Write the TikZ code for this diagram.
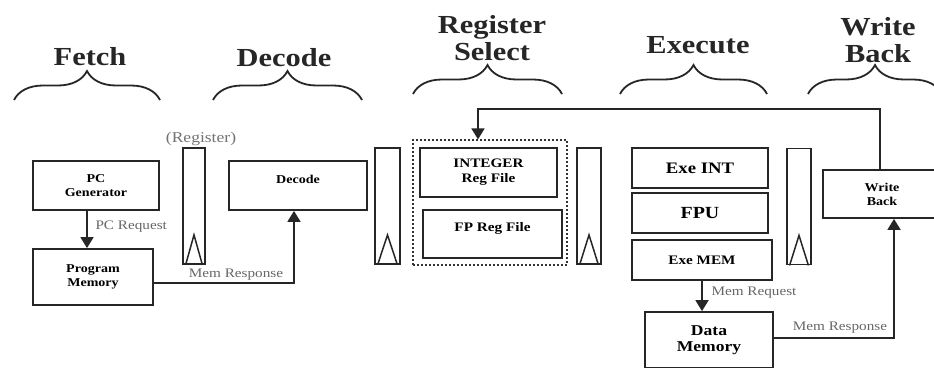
\documentclass[tikz,border=0pt]{standalone}
\usepackage{fontspec}
\setmainfont{Liberation Serif}[FakeStretch=1.17]
\usetikzlibrary{arrows.meta,decorations.pathreplacing}

\tikzset{
  ink/.style={draw=black!85, line width=1.8pt},
  box/.style={ink, rectangle, inner sep=0pt, align=center, font=\bfseries\fontsize{13}{15}\selectfont},
  regbox/.style={ink, rectangle, inner sep=0pt, minimum width=23pt, minimum height=116pt},
  title/.style={font=\bfseries\fontsize{26}{27}\selectfont, align=center, text=black!85},
  sig/.style={font=\fontsize{13}{14}\selectfont, text=black!60},
  arr/.style={ink, -{Triangle[width=13pt,length=11pt]}},
  stagebrace/.style={ink, decorate, decoration={brace, amplitude=29pt}},
}

\begin{document}
\begin{tikzpicture}[x=1pt, y=-1pt]
\useasboundingbox (0,0) rectangle (934,367);
\clip (0,0) rectangle (934,367);

% stage titles
\node[title] (tfetch) at (90,57) {Fetch};
\node[title] (tdec) at (284,58) {Decode};
\node[title] (tsel) at (492,38) {Register\\Select};
\node[title] (texe) at (698,45) {Execute};
\node[title] (twb) at (878,40) {Write\\Back};

% stage braces
\draw[stagebrace] (14,100) -- (160,100);
\draw[stagebrace] (213,100) -- (362,100);
\draw[stagebrace] (413,94) -- (562,94);
\draw[stagebrace] (620,94) -- (767,94);
\draw[stagebrace] (808,94) -- (942,94);

% fetch stage
\node[box, minimum width=126pt, minimum height=49pt, font=\bfseries\fontsize{12}{14}\selectfont] (pcg) at (96,185.5) {PC\\Generator};
\node[box, minimum width=120pt, minimum height=56pt, font=\bfseries\fontsize{12}{14}\selectfont] (pm) at (93,277) {Program\\Memory};

% pipeline registers
\node[regbox, minimum width=22pt] (reg1) at (194,206) {};
\node[regbox, minimum width=25pt] (reg2) at (387.5,206) {};
\node[regbox, minimum width=24pt] (reg3) at (589,206) {};
\node[regbox, minimum width=24pt] (reg4) at (799,206.5) {};
\foreach \r in {reg1,reg2,reg3,reg4}
  \draw[ink, line width=1.5pt, line join=miter]
    ([xshift=3.5pt]\r.south west) -- ([yshift=30pt]\r.south) -- ([xshift=-3.5pt]\r.south east);
\node[sig, text=black!55, font=\fontsize{15}{16}\selectfont] (reglbl) at (201,139) {(Register)};

% decode stage
\node[box, minimum width=138pt, minimum height=49pt, font=\bfseries\fontsize{12}{14}\selectfont,
  label={[font=\bfseries\fontsize{12}{14}\selectfont, yshift=6pt]center:Decode}] (dec) at (298,185.5) {};

% register select stage
\node[draw=black!80, line width=1.2pt, dash pattern=on 2pt off 2pt, minimum width=154pt, minimum height=125pt, inner sep=0pt] (regsel) at (490,202.5) {};
\node[box, minimum width=137pt, minimum height=49pt] (intrf) at (488.5,172.5) {INTEGER\\Reg File};
\node[box, minimum width=139pt, minimum height=48pt,
  label={[font=\bfseries\fontsize{13}{15}\selectfont, yshift=6pt]center:FP Reg File}] (fprf) at (492.5,234) {};

% execute stage
\node[box, minimum width=136pt, minimum height=40pt, font=\bfseries\fontsize{16}{18}\selectfont] (exint) at (700,168) {Exe INT};
\node[box, minimum width=136pt, minimum height=40pt, font=\bfseries\fontsize{17}{18}\selectfont] (fpu) at (700,213) {FPU};
\node[box, minimum width=140pt, minimum height=40pt, font=\bfseries\fontsize{13}{15}\selectfont] (exmem) at (702,260) {Exe MEM};
\node[box, minimum width=128pt, minimum height=56pt, font=\bfseries\fontsize{15}{16}\selectfont] (dm) at (709,340) {Data\\Memory};

% write back stage
\node[box, minimum width=118pt, minimum height=48pt, font=\bfseries\fontsize{12}{14}\selectfont] (wb) at (882,194) {Write\\Back};

% connectors
\draw[arr] ([xshift=-9pt]pcg.south) -- ([xshift=-9pt]pcg.south |- pm.north);
\node[sig, anchor=west] (pcreq) at (92,227) {PC Request};

\draw[arr] ([yshift=-6pt]pm.east) -| ([xshift=-4pt]dec.south);
\node[sig] (mresp1) at (236,275) {Mem Response};

\draw[arr] (exmem.south) -- (exmem.south |- dm.north);
\node[sig, anchor=west] (mreq) at (708,293) {Mem Request};

\draw[arr] ([yshift=2pt]dm.east) -| ([xshift=12pt]wb.south);
\node[sig] (mresp2) at (840,328) {Mem Response};

\coordinate (fbk) at (478,109);
\draw[arr] ([xshift=-2pt]wb.north) |- (fbk) -- ([xshift=-12pt]regsel.north);
\end{tikzpicture}
\end{document}
